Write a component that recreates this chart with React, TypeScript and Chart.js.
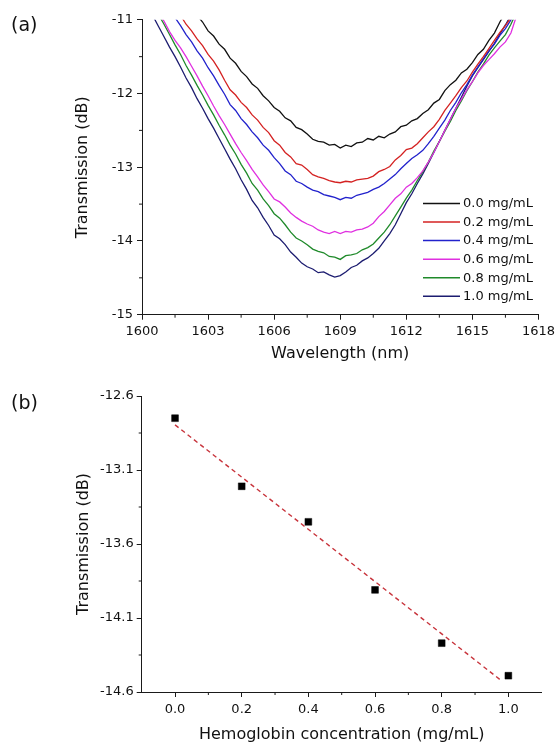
import React, { useEffect, useRef } from "react";
import { Chart, registerables } from "chart.js";

Chart.register(...registerables);

const FONT = "'DejaVu Sans', 'Liberation Sans', Arial, sans-serif";

// ---------- Panel (a) data ----------
const WAVELENGTH = [
  1600.5, 1600.75, 1601, 1601.25, 1601.5, 1601.75, 1602, 1602.25, 1602.5, 1602.75,
  1603, 1603.25, 1603.5, 1603.75, 1604, 1604.25, 1604.5, 1604.75, 1605, 1605.25,
  1605.5, 1605.75, 1606, 1606.25, 1606.5, 1606.75, 1607, 1607.25, 1607.5, 1607.75,
  1608, 1608.25, 1608.5, 1608.75, 1609, 1609.25, 1609.5, 1609.75, 1610, 1610.25,
  1610.5, 1610.75, 1611, 1611.25, 1611.5, 1611.75, 1612, 1612.25, 1612.5, 1612.75,
  1613, 1613.25, 1613.5, 1613.75, 1614, 1614.25, 1614.5, 1614.75, 1615, 1615.25,
  1615.5, 1615.75, 1616, 1616.25, 1616.5, 1616.75, 1617,
];

const T_00 = [
  -10.25, -10.35, -10.43, -10.53, -10.6, -10.7, -10.77, -10.87, -10.94, -11.03,
  -11.15, -11.22, -11.33, -11.4, -11.52, -11.59, -11.7, -11.77, -11.87, -11.93,
  -12.03, -12.1, -12.19, -12.24, -12.33, -12.37, -12.46, -12.49, -12.55, -12.62,
  -12.65, -12.66, -12.7, -12.69, -12.74, -12.7, -12.72, -12.67, -12.66, -12.61,
  -12.63, -12.58, -12.6, -12.55, -12.52, -12.45, -12.43, -12.37, -12.34, -12.27,
  -12.22, -12.13, -12.08, -11.96, -11.88, -11.82, -11.72, -11.67, -11.58, -11.47,
  -11.4, -11.28, -11.18, -11.03, -10.9, -10.78, -10.65,
];
const T_02 = [
  -10.4, -10.5, -10.62, -10.72, -10.84, -10.94, -11.06, -11.15, -11.26, -11.35,
  -11.47, -11.56, -11.68, -11.82, -11.95, -12.02, -12.12, -12.19, -12.29, -12.36,
  -12.46, -12.53, -12.64, -12.7, -12.8, -12.86, -12.95, -12.97, -13.03, -13.1,
  -13.13, -13.15, -13.18, -13.2, -13.21, -13.19, -13.2, -13.17, -13.16, -13.15,
  -13.12, -13.06, -13.03, -12.99, -12.9, -12.84, -12.76, -12.74, -12.68, -12.6,
  -12.52, -12.45, -12.35, -12.23, -12.13, -12.03, -11.92, -11.83, -11.71, -11.6,
  -11.5, -11.39, -11.28, -11.17, -11.08, -10.97, -10.85,
];
const T_04 = [
  -10.5, -10.61, -10.73, -10.85, -10.97, -11.08, -11.2, -11.3, -11.42, -11.52,
  -11.65, -11.76, -11.89, -12.01, -12.15, -12.23, -12.34, -12.42, -12.52, -12.6,
  -12.7, -12.77, -12.87, -12.95, -13.05, -13.1, -13.19, -13.22, -13.27, -13.31,
  -13.33, -13.37, -13.39, -13.41, -13.44, -13.41, -13.42, -13.38, -13.36, -13.34,
  -13.3, -13.27, -13.22, -13.16, -13.1, -13.02, -12.95, -12.88, -12.83, -12.77,
  -12.68, -12.58, -12.47, -12.36, -12.23, -12.12, -11.99, -11.88, -11.75, -11.64,
  -11.53, -11.42, -11.33, -11.21, -11.12, -11.0, -10.9,
];
const T_06 = [
  -10.76, -10.89, -11.02, -11.16, -11.28, -11.38, -11.5, -11.63, -11.76, -11.9,
  -12.03, -12.17, -12.3, -12.42, -12.55, -12.68, -12.8, -12.91, -13.03, -13.13,
  -13.24, -13.33, -13.43, -13.47, -13.54, -13.62, -13.68, -13.73, -13.77, -13.8,
  -13.85, -13.88, -13.9, -13.87, -13.9, -13.87, -13.88, -13.85, -13.84, -13.81,
  -13.76, -13.67, -13.6, -13.51, -13.42, -13.36, -13.27, -13.22, -13.14, -13.05,
  -12.93, -12.8, -12.65, -12.5, -12.35, -12.2, -12.08, -11.95, -11.84, -11.72,
  -11.62, -11.54, -11.46, -11.37, -11.3, -11.18, -10.95,
];
const T_08 = [
  -10.8, -10.93, -11.06, -11.2, -11.34, -11.47, -11.62, -11.75, -11.89, -12.02,
  -12.16, -12.29, -12.43, -12.56, -12.7, -12.82, -12.96, -13.08, -13.22, -13.31,
  -13.43, -13.52, -13.63, -13.69, -13.78, -13.88, -13.96, -14.0, -14.05, -14.11,
  -14.14, -14.16, -14.21, -14.22, -14.25, -14.2, -14.19, -14.17, -14.12, -14.09,
  -14.04, -13.96, -13.88, -13.78, -13.66, -13.54, -13.42, -13.31, -13.18, -13.06,
  -12.93, -12.78, -12.65, -12.51, -12.38, -12.23, -12.1, -11.96, -11.84, -11.71,
  -11.6, -11.48, -11.38, -11.29, -11.2, -11.06, -10.9,
];
const T_10 = [
  -10.95, -11.09, -11.23, -11.37, -11.5, -11.64, -11.79, -11.92, -12.07, -12.2,
  -12.34, -12.47, -12.61, -12.75, -12.89, -13.02, -13.17, -13.3, -13.45, -13.55,
  -13.68, -13.79, -13.92, -13.97, -14.05, -14.15, -14.22, -14.3, -14.35, -14.38,
  -14.43, -14.42, -14.46, -14.49, -14.47, -14.42, -14.36, -14.33, -14.27, -14.23,
  -14.17, -14.1, -14.0, -13.9, -13.78, -13.63, -13.48, -13.36, -13.22, -13.09,
  -12.95, -12.8, -12.65, -12.5, -12.35, -12.2, -12.05, -11.9, -11.76, -11.65,
  -11.54, -11.43, -11.32, -11.19, -11.07, -10.94, -10.8,
];

const SERIES_A = [T_00, T_02, T_04, T_06, T_08, T_10];
const SERIES_LABELS = ["0.0 mg/mL", "0.2 mg/mL", "0.4 mg/mL", "0.6 mg/mL", "0.8 mg/mL", "1.0 mg/mL"];
const SERIES_COLORS = ["#111111", "#d42222", "#2222cc", "#e030e0", "#1f8a2a", "#1c1c70"];

const XTICKS_A = [1600, 1603, 1606, 1609, 1612, 1615, 1618];
const XMINOR_A = [1601.5, 1604.5, 1607.5, 1610.5, 1613.5, 1616.5];
const YTICKS_A = [-15, -14, -13, -12, -11];
const YMINOR_A = [-14.5, -13.5, -12.5, -11.5];

// ---------- Panel (b) data ----------
const CONCENTRATION = [0.0, 0.2, 0.4, 0.6, 0.8, 1.0];
const DIP_TRANSMISSION = [-12.75, -13.21, -13.45, -13.91, -14.27, -14.49];
const FIT_X = [0.0, 0.98];
const FIT_Y = [-12.795, -14.525];

const XTICKS_B = [0.0, 0.2, 0.4, 0.6, 0.8, 1.0];
const XMINOR_B = [0.1, 0.3, 0.5, 0.7, 0.9];
const YTICKS_B = [-14.6, -14.1, -13.6, -13.1, -12.6];
const YMINOR_B = [-14.35, -13.85, -13.35, -12.85];

const AXIS_COLOR = "#1a1a1a";
const TEXT_COLOR = "#111111";

function minorTicksPlugin(xMinor: number[], yMinor: number[], len: number) {
  return {
    id: "minorTicks",
    afterDraw(chart: any) {
      const ctx = chart.ctx;
      const xs = chart.scales.x;
      const ys = chart.scales.y;
      ctx.save();
      ctx.strokeStyle = AXIS_COLOR;
      ctx.lineWidth = 1;
      ctx.beginPath();
      for (const v of xMinor) {
        const px = xs.getPixelForValue(v);
        ctx.moveTo(px, xs.top);
        ctx.lineTo(px, xs.top + len);
      }
      for (const v of yMinor) {
        const py = ys.getPixelForValue(v);
        ctx.moveTo(ys.right - len, py);
        ctx.lineTo(ys.right, py);
      }
      ctx.stroke();
      ctx.restore();
    },
  };
}

const insideLegendPlugin = {
  id: "insideLegend",
  afterDatasetsDraw(chart: any) {
    const ctx = chart.ctx;
    const x0 = 423;
    const y0 = 203.5;
    const dy = 18.55;
    ctx.save();
    ctx.font = `13px ${FONT}`;
    ctx.textBaseline = "middle";
    ctx.textAlign = "left";
    chart.data.datasets.forEach((d: any, i: number) => {
      const y = y0 + i * dy;
      ctx.strokeStyle = d.borderColor;
      ctx.lineWidth = 1.5;
      ctx.beginPath();
      ctx.moveTo(x0, y);
      ctx.lineTo(x0 + 37, y);
      ctx.stroke();
      ctx.fillStyle = TEXT_COLOR;
      ctx.fillText(d.label, x0 + 40, y + 0.5);
    });
    ctx.restore();
  },
};

function makeAxis(opts: {
  min: number;
  max: number;
  ticks: number[];
  horizontal: boolean;
  size: number;
  title: string;
  titlePad: any;
  tickPad: number;
  fmt: (v: number) => string;
}) {
  return {
    type: "linear" as const,
    position: opts.horizontal ? ("bottom" as const) : ("left" as const),
    min: opts.min,
    max: opts.max,
    afterBuildTicks: (scale: any) => {
      scale.ticks = opts.ticks.map((v) => ({ value: v }));
    },
    afterFit: (scale: any) => {
      if (opts.horizontal) scale.height = opts.size;
      else scale.width = opts.size;
    },
    ticks: {
      autoSkip: false,
      maxRotation: 0,
      padding: opts.tickPad,
      color: TEXT_COLOR,
      font: { family: FONT, size: 13 },
      callback: (v: any) => opts.fmt(Number(v)),
    },
    grid: {
      display: true,
      drawOnChartArea: false,
      drawTicks: true,
      tickLength: 5,
      tickColor: AXIS_COLOR,
      tickWidth: 1,
    },
    border: { display: true, color: AXIS_COLOR, width: 1 },
    title: {
      display: true,
      text: opts.title,
      color: TEXT_COLOR,
      font: { family: FONT, size: 16 },
      padding: opts.titlePad,
    },
  };
}

export default function App() {
  const refA = useRef<HTMLCanvasElement | null>(null);
  const refB = useRef<HTMLCanvasElement | null>(null);

  useEffect(() => {
    if (!refA.current || !refB.current) return;

    const chartA = new Chart(refA.current, {
      type: "scatter",
      data: {
        datasets: SERIES_A.map((vals, i) => ({
          label: SERIES_LABELS[i],
          data: WAVELENGTH.map((w, j) => ({ x: w, y: vals[j] })),
          showLine: true,
          borderColor: SERIES_COLORS[i],
          backgroundColor: SERIES_COLORS[i],
          borderWidth: 1.3,
          pointRadius: 0,
          tension: 0,
        })),
      },
      options: {
        animation: false,
        responsive: true,
        maintainAspectRatio: false,
        events: [],
        layout: { padding: { left: 0, right: 19, top: 19.8, bottom: 0 } },
        plugins: { legend: { display: false }, tooltip: { enabled: false } },
        scales: {
          x: makeAxis({
            min: 1600, max: 1618, ticks: XTICKS_A, horizontal: true, size: 55.3,
            title: "Wavelength (nm)", titlePad: { top: 0, bottom: 6.7 }, tickPad: 4,
            fmt: (v) => String(v),
          }),
          y: makeAxis({
            min: -15, max: -11, ticks: YTICKS_A, horizontal: false, size: 142,
            title: "Transmission (dB)", titlePad: { top: 73.4, bottom: 0 }, tickPad: 4,
            fmt: (v) => String(v),
          }),
        },
      },
      plugins: [minorTicksPlugin(XMINOR_A, YMINOR_A, 3), insideLegendPlugin],
    } as any);

    const chartB = new Chart(refB.current, {
      type: "scatter",
      data: {
        datasets: [
          {
            label: "Measured",
            data: CONCENTRATION.map((c, i) => ({ x: c, y: DIP_TRANSMISSION[i] })),
            showLine: false,
            pointStyle: "rect",
            pointRadius: 4.8,
            backgroundColor: "#000000",
            borderColor: "#000000",
            borderWidth: 0.5,
          },
          {
            label: "Linear fit",
            data: FIT_X.map((x, i) => ({ x, y: FIT_Y[i] })),
            showLine: true,
            pointRadius: 0,
            borderColor: "#c8343c",
            borderDash: [4.5, 3.5],
            borderWidth: 1.4,
          },
        ],
      },
      options: {
        animation: false,
        responsive: true,
        maintainAspectRatio: false,
        events: [],
        layout: { padding: { left: 0, right: 17.3, top: 26, bottom: 0 } },
        plugins: { legend: { display: false }, tooltip: { enabled: false } },
        scales: {
          x: makeAxis({
            min: -0.1, max: 1.1, ticks: XTICKS_B, horizontal: true, size: 55,
            title: "Hemoglobin concentration (mg/mL)", titlePad: { top: 0, bottom: 2.7 }, tickPad: 5,
            fmt: (v) => v.toFixed(1),
          }),
          y: makeAxis({
            min: -14.6, max: -12.6, ticks: YTICKS_B, horizontal: false, size: 141.7,
            title: "Transmission (dB)", titlePad: { top: 74.4, bottom: 0 }, tickPad: 3,
            fmt: (v) => v.toFixed(1),
          }),
        },
      },
      plugins: [minorTicksPlugin(XMINOR_B, YMINOR_B, 3)],
    } as any);

    return () => {
      chartA.destroy();
      chartB.destroy();
    };
  }, []);

  const labelStyle: React.CSSProperties = {
    position: "absolute",
    left: 11,
    fontFamily: FONT,
    fontSize: 19,
    lineHeight: "20px",
    color: TEXT_COLOR,
  };

  return (
    <div
      style={{
        position: "fixed",
        left: 0,
        top: 0,
        width: 559,
        height: 747,
        background: "#ffffff",
        overflow: "hidden",
      }}
    >
      <div style={{ position: "absolute", left: 0, top: 0, width: 559, height: 370 }}>
        <canvas ref={refA} />
      </div>
      <div style={{ position: "absolute", left: 0, top: 370, width: 559, height: 377 }}>
        <canvas ref={refB} />
      </div>
      <div style={{ ...labelStyle, top: 14 }}>(a)</div>
      <div style={{ ...labelStyle, top: 392 }}>(b)</div>
    </div>
  );
}
